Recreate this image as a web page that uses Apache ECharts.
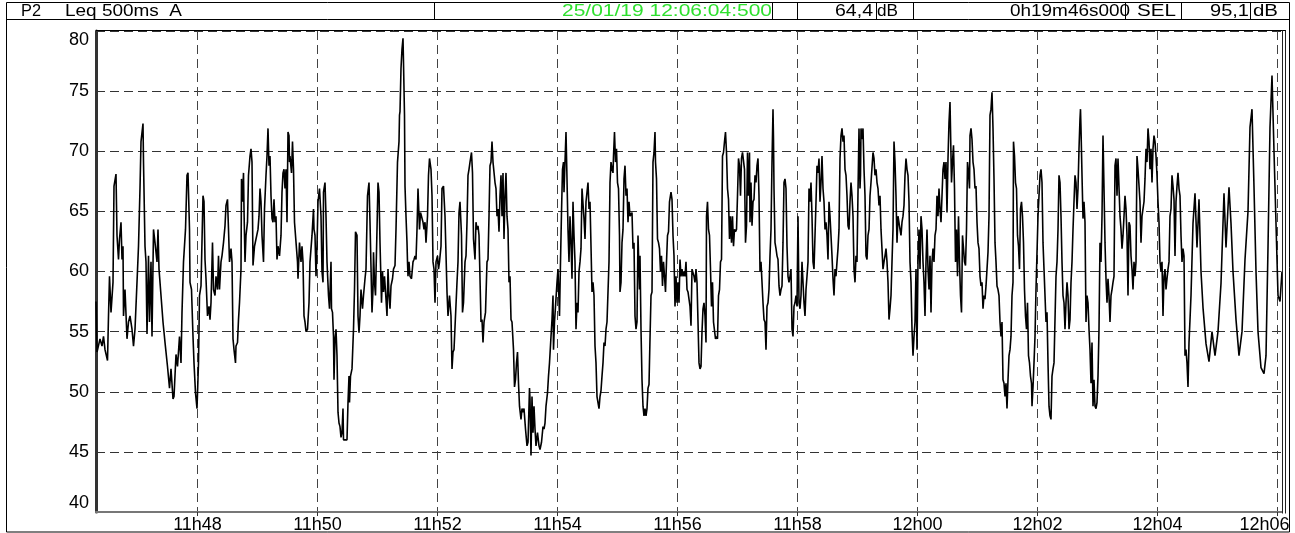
<!DOCTYPE html>
<html><head><meta charset="utf-8">
<script src="https://cdn.jsdelivr.net/npm/echarts@6/dist/echarts.min.js"></script>
<style>html,body{margin:0;padding:0;background:#fff}#c{width:1295px;height:533px}</style>
</head><body><div id="c"></div>
<script>
// ---- data ----
const startClock = '11:46:18.5';           // first sample time
const durationSec = 1186;                   // 0h19m46s
const tickLabels = ['11h48','11h50','11h52','11h54','11h56','11h58','12h00','12h02','12h04','12h06'];
const yMin = 40, yMax = 80, yStep = 5;
const channelLabel = 'P2';
const indexLabel = 'Leq 500ms  A';
const stampLabel = '25/01/19 12:06:04:500';
const leqValue = '64,4';
const durationLabel = '0h19m46s000';
const selLabel = 'SEL';
const selValue = '95,1';
const unitLabel = 'dB';
// [seconds since start, dB(A)]
const trace = [
[0,57.5],[1,53.3],[4,54.4],[6,53.8],[7.5,54.6],[9,53.5],[11.5,52.6],[12.5,56.3],[13.5,59.6],[15,56.6],[17,59.1],[18,67.1],[20,68.1],[21,63.0],[22.5,61.0],[23.5,62.7],[25,64.1],[26,61.0],[27,62.1],[27.5,56.3],[29,58.5],[31,54.4],[32.5,55.8],[34,56.3],[36,55.2],[37.5,53.8],[39,55.2],[41,59.1],[42.5,62.1],[44,66.9],[45,70.8],[47,72.3],[47.5,69.1],[49,62.1],[50,60.8],[51,54.8],[52.5,61.3],[53.5,55.8],[55,60.8],[56,54.6],[57.5,63.5],[59,62.4],[61,60.8],[62,63.5],[63,60.2],[65,58.0],[67,55.8],[69,54.1],[71.5,52.1],[73.5,50.3],[75,51.9],[77,49.4],[78,49.6],[80,53.1],[81.5,52.1],[83.5,54.6],[85,52.4],[86,56.6],[87.5,60.8],[89.5,63.5],[91,68.0],[92,68.2],[93.5,63.5],[94,59.1],[95.5,58.5],[97,54.6],[98,52.4],[99.5,49.9],[101,48.6],[102.5,52.4],[103.5,58.0],
[105,58.8],[107,66.3],[108,65.8],[109,61.0],[110,59.4],[111.5,56.3],[113,57.1],[114,56.0],[115,57.4],[116.5,62.4],[117.5,58.5],[119,58.0],[120,59.6],[121.5,58.5],[122.5,61.3],[123.5,58.5],[125,60.8],[126,61.3],[127.5,62.4],[129,63.8],[130,65.5],[131.5,66.0],[132.5,63.5],[133.5,60.8],[135,61.9],[136,60.8],[137,54.4],[138,53.5],[139.5,52.4],[140,53.8],[141.5,54.1],[142.5,56.0],[143.5,57.4],[145,60.2],[145.5,67.7],[146.5,65.8],[147.5,68.2],[148,65.2],[149,60.8],[150,63.0],[151.5,64.1],[152.5,68.0],[154,69.6],[155,70.2],[156,69.1],[157,60.5],[157.5,60.5],[158.5,62.1],[160,62.1],[162,63.5],[163,64.6],[164,66.9],[165,65.8],[166,63.0],[167.5,60.8],[168.5,65.2],[170,68.0],[171,69.6],[172,71.9],[173,68.8],[174,69.6],[175,66.3],[176,64.4],[177,64.1],[178,66.0],[179,64.1],[180,64.6],[181,61.0],[182,62.1],[183.5,61.3],[185,63.0],[186,66.6],[187,68.2],[188,68.5],[189,66.9],[190,68.5],[191,64.1],[192,71.6],[193,71.3],[193.5,69.1],[194,69.6],[195.5,68.2],[196.5,70.8],[197.5,68.5],[198.5,64.1],[200,64.1],[201.5,60.8],[202,59.4],[203.5,62.4],[205,60.8],[206,62.1],[207,60.8],[208,56.3],[209,55.8],[210,55.0],[211.5,55.2],[213,57.4],[214,60.8],
[215,60.8],[216,63.0],[217.5,65.2],[218,63.5],[219,63.0],[220,59.6],[221,62.1],[222,65.8],[223.5,66.9],[225,64.6],[226,60.0],[227,59.1],[227.5,66.6],[229,67.4],[230,64.6],[231,60.8],[232.5,58.0],[233.5,56.9],[235,60.8],[235.5,56.9],[236.5,56.6],[237.5,54.6],[238,51.0],[239,54.4],[240,55.2],[241,53.0],[242,48.3],[243,47.4],[244,47.1],[245,46.2],[246,46.6],[247,48.6],[247.5,46.0],[249,46.0],[251,46.0],[252,49.1],[253,51.3],[253.5,49.1],[254.5,51.3],[256,51.9],[257.5,55.2],[258.5,58.5],[259.5,63.3],[261,63.0],[262,56.3],[263,54.9],[264,56.3],[265,58.5],[266.5,56.9],[267.5,58.0],[269,59.4],[270,60.2],[271.5,66.3],[273,67.4],[274,64.1],[276,56.6],[277,58.5],[277.5,61.6],[278.5,59.1],[279.5,58.0],[281,63.5],[282,67.4],[283,66.6],[284,62.4],[285.5,57.4],[286.5,60.0],[287.5,58.3],[288.5,59.6],[290,57.7],[291,56.3],[292,60.2],[293,58.0],[294,56.9],[295,58.8],[296.5,59.4],[297.5,60.2],[299,60.5],[300,63.5],[301.5,69.1],[303,70.8],[303.5,73.0],[304,73.3],[305,76.9],[306,78.5],[307,79.4],[307.5,77.4],[308.5,73.0],[309,67.1],[310,64.6],[311,62.4],[311.5,60.8],[312,59.6],[313,60.8],[314,59.6],[315.5,59.4],[317,60.8],[318,61.0],[319,61.3],[320,61.0],[321,63.5],[322,66.9],[323.5,63.5],
[324.5,64.9],[325.5,64.6],[327,64.1],[328,63.5],[329,64.1],[330,62.4],[331.5,64.6],[332.5,68.0],[333.5,69.4],[335,68.5],[336,66.3],[337,60.8],[338,60.2],[339,57.4],[340,60.8],[341.5,61.3],[342.5,60.2],[343.5,60.8],[345,62.1],[346,66.9],[347.5,67.1],[349,64.6],[350,64.6],[351,58.3],[352,56.3],[353.5,58.0],[355,56.3],[356,51.9],[357,53.3],[358,53.5],[359.5,56.3],[361,59.1],[362,60.8],[363,64.9],[364,65.8],[365.5,63.0],[366.5,56.6],[367.5,57.4],[369,60.8],[370,61.3],[371,64.1],[372,68.0],[373,68.5],[374,69.1],[375.5,69.9],[376.5,68.2],[377.5,62.7],[379,61.0],[380,64.1],[381,63.5],[382,63.8],[383,63.0],[384,59.4],[385,55.8],[386,56.0],[387,54.1],[388,55.8],[389.5,56.6],[391,60.8],[392,61.0],[393,64.6],[394,68.8],[395,69.1],[396,70.8],[397,69.1],[398,69.1],[399,67.4],[400,66.9],[401,64.6],[402,65.2],[403,63.3],[404,66.3],[405,68.0],[406,64.6],[407,68.2],[408,62.7],[409,66.3],[410,68.2],[411,64.6],[412,63.5],[413,59.1],[414,59.6],[415,56.0],[416,55.8],[417.5,53.5],[418.5,50.4],[419.5,51.0],[420.5,52.4],[421.5,53.3],[422.5,50.7],[423.5,48.8],[425,47.7],[426,48.6],[427,48.3],[428,48.6],[429.5,46.9],[431,45.5],[432,45.8],[433.5,50.3],
[434,49.4],[435,44.7],[436,49.6],[437,46.6],[438,48.8],[439,46.9],[440,45.5],[441.5,46.6],[443,45.5],[444,45.2],[445.5,45.8],[447,47.1],[448,46.9],[449,47.4],[450,48.8],[451.5,49.9],[452.5,51.3],[453.5,52.4],[455,54.6],[456,56.0],[457,58.0],[457.5,53.5],[458.5,55.8],[459.5,57.1],[461,59.1],[462,60.2],[463.5,56.3],[464.5,60.8],[465.5,64.9],[466.5,68.5],[467.5,69.1],[468,66.6],[469,69.1],[470,71.6],[471,67.7],[472,63.5],[473,60.8],[474,64.6],[475,62.4],[476,59.4],[477,65.8],[478,63.0],[479,60.8],[480,55.2],[481,57.4],[482,56.6],[483,60.0],[484,60.8],[485,61.9],[486,66.9],[487,66.9],[488,64.4],[489,62.7],[490,65.8],[491,65.8],[492,67.4],[493,65.2],[494,65.8],[495,62.1],[496,58.3],[497,59.1],[498,58.0],[499,53.8],[500,52.4],[501,49.6],[502,49.1],[503,48.6],[504,49.6],[505,50.1],[506,51.3],[507,52.4],[508,54.1],[509,53.8],[510,55.2],[511,55.8],[512,55.8],[513,60.8],[514,67.4],[515,69.1],[516,68.5],[517,68.2],[517.5,69.6],[518.5,71.6],[519.5,69.1],[520.5,70.2],[521.5,67.4],[522.5,66.9],[523.5,63.0],[524,58.3],[525,59.1],[526,62.4],[527,63.5],[528,67.7],[529,68.8],[530,66.3],[531,66.9],[532,64.1],[533,65.8],[534,64.6],[535,64.6],[536,64.9],[537,61.9],[538,62.4],[539,56.3],[540,55.2],[541,55.8],[542,63.0],[543.5,58.5],
[544,61.3],[545,55.2],[546,51.0],[547,48.8],[548,48.0],[549,48.6],[550,48.0],[551,48.6],[552,50.3],[553,50.6],[554,54.4],[555,58.0],[556,58.3],[557,69.1],[558,69.9],[559,71.6],[559.5,69.1],[560.5,67.7],[561.5,62.7],[562.5,62.4],[563.5,61.9],[564.5,60.0],[565.5,61.3],[566.5,58.8],[567.5,60.8],[568.5,59.6],[569.5,58.3],[570.5,60.8],[571.5,63.0],[572.5,63.3],[573.5,65.8],[575,66.6],[576,66.0],[577,63.0],[578,61.3],[579,57.1],[580,59.6],[581,57.4],[582,59.1],[583,57.4],[584,61.0],[585,59.6],[586,60.2],[587,59.6],[588,60.0],[589,59.6],[590,60.8],[591,58.5],[592,58.3],[593,57.7],[594,57.1],[595,55.5],[596,60.2],[597,60.2],[598,59.6],[599,59.1],[600,60.2],[601,59.1],[602,55.8],[603,52.4],[604,51.9],[605,52.1],[606,55.0],[607,56.9],[608,57.4],[609,56.3],[610,54.1],[610.5,64.6],[611.5,65.8],[612.5,63.5],[613.5,63.0],[614.5,60.2],[615.5,57.1],[616.5,59.1],[617.5,55.8],[618.5,55.8],[619.5,54.4],[620.5,54.6],[621.5,54.4],[622.5,58.0],[623.5,58.5],[624.5,60.8],[625.5,61.0],[626.5,69.6],[627.5,69.9],[628.5,70.8],[629.5,71.6],[630.5,69.9],[631.5,66.9],[632.5,66.0],[633.5,62.7],[634.5,64.6],[635.5,62.4],[636.5,64.6],[637.5,62.1],[638.5,63.5],[639.5,63.3],[640.5,63.5],[641.5,66.3],[642.5,69.4],[643.5,68.8],[644.5,66.3],[645.5,69.4],[646.5,69.9],[647.5,69.9],[648.5,68.5],[649.5,62.4],[650.5,63.8],[651.5,69.9],[652.5,66.3],[653.5,69.9],
[654,64.1],[655,67.4],[656,63.8],[657,65.8],[658,66.0],[659,68.0],[660,67.4],[661,68.8],[662,69.4],[663,66.3],[664,60.0],[665,60.8],[666,59.1],[667,57.4],[668,56.0],[669,55.8],[670,53.5],[671,57.1],[672,57.4],[673,58.5],[674,61.3],[675,63.5],[676,69.1],[677,73.5],[677.5,71.0],[678,66.9],[679,62.4],[680,61.9],[681,61.3],[682,61.0],[683,58.8],[684,58.0],[685,58.5],[686,58.8],[687,62.4],[688,67.4],[689,67.7],[690,66.9],[691,62.1],[692,59.6],[693,59.1],[694,59.6],[695,60.2],[696,55.2],[697,54.6],[698,57.1],[699,57.4],[700,58.0],[701,57.1],[702,64.6],[703,57.4],[704,56.9],[705,58.0],[706,60.8],[707,59.1],[708,57.4],[709,56.3],[710,58.5],[711,59.6],[712,60.8],[713,66.9],[714,65.8],[715,67.4],[716,64.6],[717,60.8],[718,60.2],[719,63.0],[720,65.8],[721,68.8],[722,68.2],[723,69.4],[724,65.8],[725,67.4],[726,69.6],[727,66.9],[728,65.8],[729,63.5],[730,64.1],[731,63.0],[732,61.0],[733,65.8],[734,64.6],[735,63.0],[736,61.3],[737,59.4],[738,58.0],[739,60.2],[740,59.6],[741,60.8],[742,61.9],[743,63.5],[744,69.4],[745,71.3],[746,71.9],[747,70.8],[748,71.3],[749,68.5],[750,68.0],[751,66.3],[752,63.8],[753,63.5],[754,65.8],[755,67.4],[756,66.3],[757,64.6],[758,60.2],[759,59.1],[760,61.3],[761,60.8],[762,66.6],[763,71.9],[764,66.9],
[764.5,68.0],[765,71.9],[766,71.0],[767,71.9],[768,68.5],[769,66.3],[770,61.3],[771,61.0],[772,63.0],[773,63.5],[774,66.3],[775,67.4],[776,67.4],[777,69.9],[778,69.4],[779,68.0],[780,68.5],[781,67.4],[782,66.9],[783,65.5],[784,66.3],[785,63.5],[786,63.5],[787,60.2],[788,60.8],[789,61.3],[790,61.9],[791,60.8],[792,59.1],[793,56.0],[794,56.9],[795,58.0],[796,60.8],[797,63.5],[798,70.8],[799,69.1],[800,66.3],[801,62.4],[802,64.6],[803,64.6],[804,63.5],[805,63.0],[806,64.1],[807,64.6],[808,65.5],[809,68.0],[810,69.4],[811,68.5],[812,68.0],[813,65.8],[814,60.8],[815,59.1],[816,55.2],[817,53.0],[818,54.6],[819,55.8],[820,60.2],[821,53.5],[822,60.8],[823,63.5],[824,60.2],[825,64.6],[826,63.5],[827,60.8],[828,59.1],[829,56.3],[830,60.8],[831,63.5],[832,60.2],[833,58.5],[834,61.3],[835,56.6],[836,60.8],[837,61.9],[838,60.8],[839,63.0],[840,63.5],[841,66.3],[842,64.6],[843,66.9],[844,65.2],[845,64.1],[846,66.3],[847,68.5],[848,69.1],[849,67.7],[850,69.1],[851,64.9],[852,69.4],[853,72.4],[854,74.1],[854.5,71.9],[855.5,67.4],[856.5,69.1],[857.5,70.5],[858.5,66.9],[859.5,60.8],[860.5,63.5],[861.5,59.6],[862.5,64.6],[863.5,60.8],[864.5,58.0],[865.5,56.6],[866.5,63.0],[867.5,61.9],[868.5,60.8],[869.5,60.5],[870.5,63.5],[871.5,69.1],[872.5,68.2],[873.5,66.9],
[874,71.3],[875,71.9],[876,71.0],[877,69.1],[878,68.5],[879,66.9],[880,67.1],[881,64.1],[882,62.4],[883,61.9],[884,59.6],[885,58.8],[886,59.1],[887,56.9],[888,58.0],[889,57.7],[890,58.8],[891,60.2],[892,61.6],[893,64.6],[894,73.0],[895,73.5],[896,74.9],[897,71.9],[898,67.7],[899,62.4],[900,60.8],[901,58.8],[902,58.5],[903,58.0],[904,55.8],[905,54.6],[906,55.8],[907,51.0],[908,50.7],[909,49.6],[910,50.7],[911,48.6],[912,51.0],[913,53.0],[914,53.5],[915,54.6],[916,58.0],[917,59.1],[917.5,70.8],[918.5,69.6],[919.5,67.4],[920.5,66.9],[921.5,63.0],[922.5,62.1],[923.5,60.2],[924.5,65.2],[925.5,65.8],[926.5,64.6],[927.5,62.4],[928.5,58.5],[929.5,56.3],[930.5,55.2],[931.5,57.4],[932.5,53.0],[933.5,52.4],[934.5,51.3],[935.5,50.7],[936,48.8],[937,50.4],[938,52.4],[939,54.6],[940,58.5],[941,58.5],[942,64.6],[943,66.3],[944,68.0],[945,68.5],[946,67.4],[947,62.4],[948,60.2],[949,58.0],[950,55.8],[951,56.6],[952,52.4],[953,48.8],[954,48.0],[955,47.7],[956,51.3],[957,51.9],[958,52.4],[959,56.0],[960,59.6],[961,60.8],[962,63.5],[963,68.0],[964,67.4],[965,64.6],[966,60.8],[967,58.0],[968,57.4],[969,55.2],[970,57.4],[971,59.1],[972,58.0],[973,55.2],[974,56.0],[975,59.1],[976,60.8],[977,63.5],[978,65.8],[979,68.0],[980,67.4],[981,65.2],[982,66.9],[983,70.2],[984,72.7],
[984.5,73.5],[985,71.9],[986,68.0],[987,64.4],[988,65.8],[989,64.1],[990,55.8],[991,58.0],[992,57.4],[993,55.2],[994,53.5],[995,50.7],[996,54.1],[997,48.8],[998,51.0],[999,48.8],[1000,48.6],[1001,49.1],[1002,51.3],[1003,55.2],[1004,62.4],[1005,60.8],[1006,64.6],[1007,71.3],[1008,66.9],[1009,62.4],[1010,59.4],[1011,57.4],[1012,59.4],[1013,58.0],[1014,55.8],[1015,58.0],[1016,58.5],[1017,59.1],[1018,59.6],[1019,68.8],[1020,69.4],[1021,66.3],[1022,69.4],[1023,69.4],[1024,64.6],[1025,63.5],[1026,61.9],[1027,63.0],[1028,64.6],[1029,66.3],[1030,65.2],[1031,63.0],[1032,58.0],[1033,64.1],[1034,63.8],[1035,61.3],[1036,60.2],[1037,58.5],[1038,60.8],[1039,59.6],[1040,60.8],[1041,69.6],[1042,68.5],[1043,68.5],[1044,65.8],[1045,62.4],[1046,64.6],[1047,65.2],[1048,65.8],[1049,67.7],[1050,70.2],[1051,69.1],[1052,71.9],[1053,70.8],[1054,68.5],[1055,70.2],[1056,67.4],[1057,70.2],[1058,71.3],[1059,70.8],[1060,69.6],[1061,68.0],[1062,65.8],[1063,64.1],[1064,60.8],[1065,60.0],[1066,60.8],[1067,56.3],[1068,59.6],[1069,60.2],[1070,58.5],[1071,59.4],[1072,60.2],[1073,60.8],[1074,64.6],[1075,65.2],[1076,68.0],[1077,67.1],[1078,66.0],[1079,61.3],[1080,65.8],[1081,67.1],[1082,68.2],[1083,66.9],[1084,66.3],[1085,63.0],[1086,60.8],[1087,61.9],[1088,61.3],[1089,53.0],[1090,53.5],[1091,52.4],[1092,50.4],[1093,54.1],[1094,56.0],
[1095,58.0],[1097,64.0],[1099,66.5],[1101,62.0],[1103,66.0],[1105,60.0],[1107,57.0],[1110,54.0],[1113,52.5],[1116,55.0],[1119,53.0],[1122,55.0],[1125,59.0],[1128,66.5],[1130,62.0],[1133,67.0],[1135,64.0],[1137,60.0],[1140,56.0],[1143,53.0],[1146,55.0],[1149,61.0],[1152,65.0],[1154,72.0],[1156,73.5],[1158,67.0],[1160,60.0],[1162,55.0],[1165,52.0],[1168,51.5],[1170,53.0],[1172,62.0],[1174,72.0],[1176,76.3],[1178,70.0],[1180,64.0],[1182,58.0],[1184,57.5],[1186,60.0]
];

// ---- derived ----
const startSec = startClock.split(':').map(Number).reduce((a, v, i) => a + v * [3600, 60, 1][i], 0);
const tickPos = tickLabels.map(l => { const p = l.split('h').map(Number); return p[0] * 3600 + p[1] * 60 - startSec; });
function tickIndex(v) {
  let best = 0, d = Infinity;
  tickPos.forEach((p, i) => { if (Math.abs(p - v) < d) { d = Math.abs(p - v); best = i; } });
  return best;
}
function labelFor(v) {
  const i = tickIndex(v);
  return i === tickLabels.length - 1 ? '{last|' + tickLabels[i] + '}' : tickLabels[i];
}

const FONT = '"Liberation Sans", Arial, sans-serif';
const HF = '17px ' + FONT;
const measureCtx = document.createElement('canvas').getContext('2d');
measureCtx.font = HF;
function hline(x1, y1, x2, y2, c, w) {
  return { type: 'line', silent: true, z: 100, shape: { x1, y1, x2, y2 }, style: { stroke: c || '#000', lineWidth: w || 1 } };
}
// header text stretched horizontally to fill the span [left, right]
function htext(left, right, text, align, fill) {
  const w = measureCtx.measureText(text).width || 1;
  const sx = (right - left) / w;
  return { type: 'text', silent: true, z: 101, x: align === 'right' ? right : left, y: 11, scaleX: sx,
    style: { text, font: HF, fill: fill || '#000', align, textAlign: align, verticalAlign: 'middle', textVerticalAlign: 'middle' } };
}
const seps = [434.5, 772.5, 797.5, 876.5, 913.5, 1125.5, 1181.5, 1250.5];
const graphics = [
  { type: 'rect', silent: true, z: 100, shape: { x: 6.5, y: 2.5, width: 1283, height: 529.5 }, style: { fill: null, stroke: '#000', lineWidth: 1 } },
  hline(6.5, 19.5, 1289.5, 19.5),
  hline(96, 30.5, 1286, 30.5),
  hline(1282.5, 30.5, 1282.5, 513.5, '#222', 1),
  hline(1285.5, 30.5, 1285.5, 513.5, '#222', 1)
].concat(seps.map(x => hline(x, 2.5, x, 19.5)))
 .concat([
  htext(21, 41, channelLabel, 'left'),
  htext(65, 182, indexLabel, 'left'),
  htext(562, 772, stampLabel, 'right', '#2ee02e'),
  htext(835, 873, leqValue, 'right'),
  htext(877, 898, unitLabel, 'left'),
  htext(1010, 1130, durationLabel, 'right'),
  htext(1137, 1176, selLabel, 'left'),
  htext(1210, 1249, selValue, 'right'),
  htext(1253, 1278, unitLabel, 'left')
 ]);

const chart = echarts.init(document.getElementById('c'), null, { renderer: 'canvas' });
chart.setOption({
  animation: false,
  backgroundColor: '#fff',
  grid: { left: 96, top: 31, width: durationSec, height: 481, show: false, containLabel: false, outerBoundsMode: 'none' },
  xAxis: {
    type: 'value', min: 0, max: durationSec,
    axisLine: { show: true, onZero: false, lineStyle: { color: '#777', width: 2 } },
    axisTick: { show: true, customValues: tickPos, length: 4, lineStyle: { color: '#333' } },
    axisLabel: { customValues: tickPos, formatter: labelFor, color: '#000', fontSize: 18, fontFamily: FONT, margin: 4,
      rich: { last: { padding: [0, 26, 0, 0], color: '#000', fontSize: 18, fontFamily: FONT } } },
    splitLine: { show: true, lineStyle: { color: '#444', type: [9, 5], width: 1 } }
  },
  yAxis: {
    type: 'value', min: yMin, max: yMax, interval: yStep,
    axisLine: { show: true, lineStyle: { color: '#333', width: 3 } },
    axisTick: { show: false },
    axisLabel: { color: '#000', fontSize: 18, fontFamily: FONT, margin: 7, verticalAlignMaxLabel: 'top', verticalAlignMinLabel: 'bottom' },
    splitLine: { show: true, lineStyle: { color: '#333', type: [9, 5], width: 1 } }
  },
  series: [{
    type: 'line', data: trace, showSymbol: false, symbol: 'none', silent: true,
    lineStyle: { color: '#000', width: 1.6 }
  }],
  graphic: graphics
});
</script>
</body></html>
